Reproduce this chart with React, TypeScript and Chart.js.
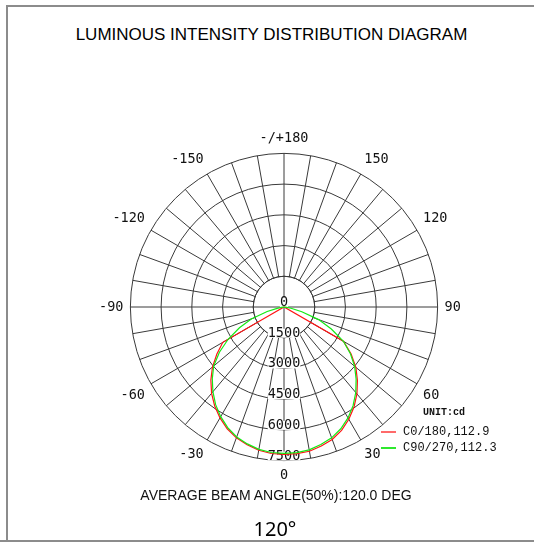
import React, { useEffect, useRef } from "react";
import { Chart, registerables } from "chart.js";

Chart.register(...registerables);

// Angle labels (degrees, 5° steps), clockwise starting at the bottom (0°)
const angleLabels = [
  0, -5, -10, -15, -20, -25, -30, -35, -40, -45, -50, -55, -60, -65, -70, -75, -80, -85, -90,
  -95, -100, -105, -110, -115, -120, -125, -130, -135, -140, -145, -150, -155, -160, -165, -170, -175,
  180,
  175, 170, 165, 160, 155, 150, 145, 140, 135, 130, 125, 120, 115, 110, 105, 100, 95,
  90, 85, 80, 75, 70, 65, 60, 55, 50, 45, 40, 35, 30, 25, 20, 15, 10, 5,
];

// Radial intensity ticks (cd)
const radialTicks = [0, 1500, 3000, 4500, 6000, 7500];

// C0/180 plane intensities (cd), same order as angleLabels
const c0Values = [
  7200, 7180, 7100, 6960, 6800, 6560, 6250, 5900, 5500, 5050, 4560, 4000, 3450, 0, 0, 0, 0, 0, 0,
  0, 0, 0, 0, 0, 0, 0, 0, 0, 0, 0, 0, 0, 0, 0, 0, 0,
  0,
  0, 0, 0, 0, 0, 0, 0, 0, 0, 0, 0, 0, 0, 0, 0, 0, 0,
  0, 0, 0, 0, 0, 0, 3350, 4000, 4580, 5070, 5540, 5960, 6330, 6650, 6880, 7030, 7150, 7190,
];

// C90/270 plane intensities (cd), same order as angleLabels
const c90Values = [
  7150, 7130, 7060, 6920, 6750, 6500, 6180, 5820, 5400, 4950, 4480, 3850, 3150, 2400, 1700, 850, 300, 60, 0,
  0, 0, 0, 0, 0, 0, 0, 0, 0, 0, 0, 0, 0, 0, 0, 0, 0,
  0,
  0, 0, 0, 0, 0, 0, 0, 0, 0, 0, 0, 0, 0, 0, 0, 0, 0,
  0, 80, 350, 900, 1800, 2550, 3350, 3950, 4500, 4980, 5450, 5880, 6250, 6560, 6800, 6950, 7080, 7140,
];

const seriesNames = ["C0/180,112.9", "C90/270,112.3"];
const seriesColors = ["rgb(255,20,20)", "rgb(20,235,20)"];

const titleText = "LUMINOUS INTENSITY DISTRIBUTION DIAGRAM";
const unitText = "UNIT:cd";
const beamText = "AVERAGE BEAM ANGLE(50%):120.0 DEG";
const beamBigText = "120°";

const gridColor = "#3a3a3a";
const monoFont = "'DejaVu Sans Mono', monospace";

const polarDecor = {
  id: "polarDecor",
  beforeDatasetsDraw(chart: any) {
    const s = chart.scales.r;
    const ctx = chart.ctx;
    const cx = s.xCenter;
    const cy = s.yCenter;
    const r1 = s.getDistanceFromCenterForValue(radialTicks[1]);
    ctx.save();
    // clear spokes inside the first ring
    ctx.fillStyle = "#ffffff";
    ctx.beginPath();
    ctx.arc(cx, cy, r1 - 0.6, 0, Math.PI * 2);
    ctx.fill();
    ctx.strokeStyle = gridColor;
    ctx.lineWidth = 1;
    ctx.beginPath();
    ctx.arc(cx, cy, r1, 0, Math.PI * 2);
    ctx.stroke();
    ctx.beginPath();
    ctx.moveTo(cx - r1, cy);
    ctx.lineTo(cx + r1, cy);
    ctx.moveTo(cx, cy - r1);
    ctx.lineTo(cx, cy + r1);
    ctx.stroke();
    // radial tick labels along the 0° axis (downwards)
    ctx.font = "13.5px " + monoFont;
    ctx.textAlign = "center";
    ctx.textBaseline = "middle";
    radialTicks.forEach((v) => {
      const d = s.getDistanceFromCenterForValue(v);
      const y = cy + d - 4.5;
      const label = String(v);
      const w = ctx.measureText(label).width;
      ctx.fillStyle = "#ffffff";
      ctx.fillRect(cx - w / 2, y - 4.5, w, 9);
      ctx.fillStyle = "#111111";
      ctx.fillText(label, cx, y);
    });
    ctx.restore();
  },
};

function PolarChart() {
  const ref = useRef<HTMLCanvasElement | null>(null);
  useEffect(() => {
    if (!ref.current) return;
    const chart = new Chart(ref.current, {
      type: "radar",
      data: {
        labels: angleLabels,
        datasets: [
          {
            label: seriesNames[0],
            data: c0Values,
            borderColor: seriesColors[0],
            borderWidth: 1.2,
            pointRadius: 0,
            fill: false,
            tension: 0,
            order: 1,
          },
          {
            label: seriesNames[1],
            data: c90Values,
            borderColor: seriesColors[1],
            borderWidth: 1.2,
            pointRadius: 0,
            fill: false,
            tension: 0,
            order: 0,
          },
        ],
      },
      options: {
        responsive: false,
        maintainAspectRatio: false,
        animation: false,
        layout: { padding: 0 },
        plugins: {
          legend: { display: false },
          tooltip: { enabled: false },
        },
        scales: {
          r: {
            min: radialTicks[0],
            max: radialTicks[radialTicks.length - 1],
            startAngle: 180,
            ticks: { display: false, stepSize: 1500 },
            grid: { circular: true, color: gridColor, lineWidth: 1 },
            angleLines: {
              display: true,
              color: gridColor,
              lineWidth: (c: any) => (Number(angleLabels[c.index]) % 10 === 0 ? 1 : 0),
            },
            pointLabels: {
              display: true,
              padding: 7,
              color: "#111111",
              font: { family: monoFont, size: 13.5 },
              callback: (label: any) => {
                const v = Number(label);
                if (v % 30 !== 0) return "";
                if (v === 180) return "-/+180";
                return String(v);
              },
            },
          },
        },
      },
      plugins: [polarDecor],
    } as any);
    return () => chart.destroy();
  }, []);
  return (
    <canvas
      ref={ref}
      width={370}
      height={370}
      style={{ position: "absolute", left: 95, top: 122, width: 370, height: 370, display: "block" }}
    />
  );
}

export default function App() {
  const sans = "'Liberation Sans', Arial, sans-serif";
  const mono = "'Liberation Mono', monospace";
  return (
    <div
      style={{
        position: "absolute",
        left: 0,
        top: 0,
        width: 534,
        height: 542,
        background: "#ffffff",
        overflow: "hidden",
      }}
    >
      {/* frame */}
      <div style={{ position: "absolute", left: 6, top: 5, width: 540, height: 2, background: "#8c8c8c" }} />
      <div style={{ position: "absolute", left: 6, top: 5, width: 2, height: 540, background: "#8c8c8c" }} />
      <div style={{ position: "absolute", left: 0, top: 540, width: 534, height: 2, background: "#8c8c8c" }} />

      <div
        style={{
          position: "absolute",
          left: 0,
          top: 26,
          width: 543,
          textAlign: "center",
          fontFamily: sans,
          fontSize: 17,
          lineHeight: "17px",
          color: "#000",
          whiteSpace: "nowrap",
        }}
      >
        {titleText}
      </div>

      <PolarChart />

      {/* legend */}
      <div
        style={{
          position: "absolute",
          left: 423,
          top: 408,
          fontFamily: mono,
          fontWeight: "bold",
          fontSize: 10,
          lineHeight: "10px",
          color: "#111",
          whiteSpace: "nowrap",
        }}
      >
        {unitText}
      </div>
      <div style={{ position: "absolute", left: 381, top: 431, width: 15, height: 2, background: "#ff6a6a" }} />
      <div
        style={{
          position: "absolute",
          left: 403,
          top: 426,
          fontFamily: mono,
          fontSize: 12,
          lineHeight: "12px",
          color: "#111",
          whiteSpace: "nowrap",
        }}
      >
        {seriesNames[0]}
      </div>
      <div style={{ position: "absolute", left: 381, top: 447, width: 15, height: 2, background: "#2ee82e" }} />
      <div
        style={{
          position: "absolute",
          left: 403,
          top: 442,
          fontFamily: mono,
          fontSize: 12,
          lineHeight: "12px",
          color: "#111",
          whiteSpace: "nowrap",
        }}
      >
        {seriesNames[1]}
      </div>

      <div
        style={{
          position: "absolute",
          left: 0,
          top: 488,
          width: 552,
          textAlign: "center",
          fontFamily: sans,
          fontSize: 14,
          lineHeight: "14px",
          color: "#111",
          whiteSpace: "nowrap",
        }}
      >
        {beamText}
      </div>
      <div
        style={{
          position: "absolute",
          left: 0,
          top: 519,
          width: 550,
          textAlign: "center",
          fontFamily: "'Noto Sans', 'Open Sans', sans-serif",
          fontSize: 20,
          lineHeight: "20px",
          color: "#000",
          whiteSpace: "nowrap",
        }}
      >
        {beamBigText}
      </div>
    </div>
  );
}
